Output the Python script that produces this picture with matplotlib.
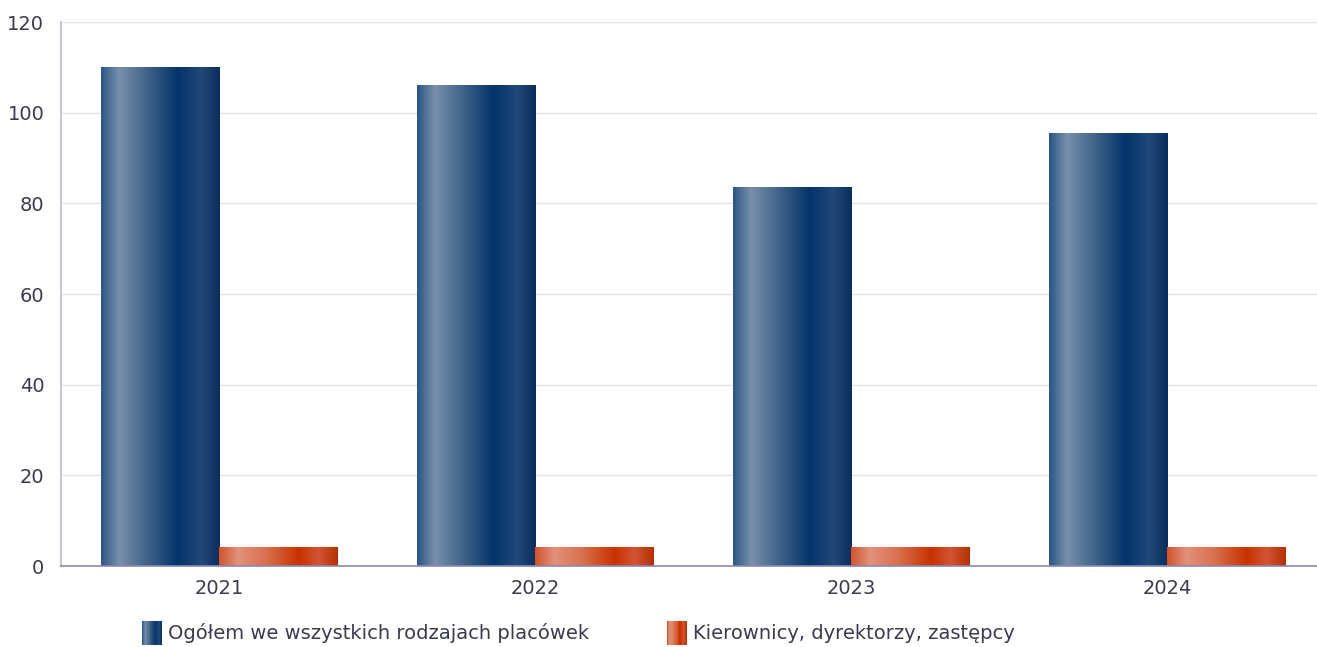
import numpy as np
from matplotlib import pyplot as plt
from matplotlib.colors import LinearSegmentedColormap
from matplotlib.legend_handler import HandlerBase
from matplotlib.patches import Rectangle

years = ["2021", "2022", "2023", "2024"]
total = [110, 106, 83.4, 95.3]
managers = [4, 4, 4, 4]
series_names = ["Ogółem we wszystkich rodzajach placówek", "Kierownicy, dyrektorzy, zastępcy"]

blue_cmap = LinearSegmentedColormap.from_list("blue_cyl", [
    (0.0, "#2b5584"), (0.15, "#7890ab"), (0.4, "#3d6188"),
    (0.65, "#02336a"), (0.84, "#21497a"), (1.0, "#0a2e5c")])
red_cmap = LinearSegmentedColormap.from_list("red_cyl", [
    (0.0, "#d0542c"), (0.16, "#e2917a"), (0.4, "#d8704e"),
    (0.67, "#c83200"), (0.84, "#d35434"), (1.0, "#b52f00")])


class GradientHandler(HandlerBase):
    def __init__(self, cmap):
        super().__init__()
        self.cmap = cmap

    def create_artists(self, legend, orig_handle, xdescent, ydescent, width, height, fontsize, trans):
        n = 24
        artists = []
        for i in range(n):
            r = Rectangle((-xdescent + width * i / n, -ydescent - 3), width / n + 0.3, height + 5,
                          facecolor=self.cmap((i + 0.5) / n), edgecolor="none", transform=trans)
            artists.append(r)
        return artists


plt.rcParams["font.family"] = "DejaVu Sans"
fig = plt.figure(figsize=(13.17, 6.47), dpi=100)
# the plot area runs a little past the right edge of the figure
ax = fig.add_axes([61 / 1317, 1 - 566 / 647, (1325 - 61) / 1317, (566 - 22) / 647])

x = np.arange(len(years))
w = 0.374
gradient = np.linspace(0, 1, 256).reshape(1, -1)
h_blue = ax.bar(x - w / 2, total, w, facecolor="none", edgecolor="none", label=series_names[0])
h_red = ax.bar(x + w / 2, managers, w, facecolor="none", edgecolor="none", label=series_names[1])
for bars, cmap in [(h_blue, blue_cmap), (h_red, red_cmap)]:
    for b in bars:
        x0, y0 = b.get_x(), b.get_y()
        ax.imshow(gradient, cmap=cmap, aspect="auto", interpolation="bilinear",
                  extent=[x0, x0 + b.get_width(), y0, y0 + b.get_height()], zorder=3)

ax.set_xlim(-0.5, len(years) - 0.5)
ax.set_ylim(0, 120)
ax.set_yticks(range(0, 121, 20))
ax.set_xticks(x)
ax.set_xticklabels(years)
ax.grid(axis="y", color="#e3e3ec", linewidth=1, zorder=0)
ax.set_axisbelow(True)
for side in ["top", "right"]:
    ax.spines[side].set_visible(False)
ax.spines["left"].set_color("#c6c6d8")
ax.spines["left"].set_linewidth(1.5)
ax.spines["bottom"].set_color("#8a88b0")
ax.spines["bottom"].set_linewidth(1.2)
ax.spines["bottom"].set_zorder(4)
ax.tick_params(length=0, labelsize=14, labelcolor="#3a3a50")
ax.tick_params(axis="y", pad=12)
ax.tick_params(axis="x", pad=9)

fig.legend([h_blue, h_red], series_names, loc="center left", bbox_to_anchor=(142 / 1317, 1 - 633 / 647),
           ncol=2, frameon=False, fontsize=14, labelcolor="#3a3a50", borderpad=0, borderaxespad=0,
           handler_map={h_blue: GradientHandler(blue_cmap), h_red: GradientHandler(red_cmap)},
           handlelength=1.03, handleheight=0.9, handletextpad=0.3, columnspacing=4.0)

plt.savefig("out.png", dpi=100)
